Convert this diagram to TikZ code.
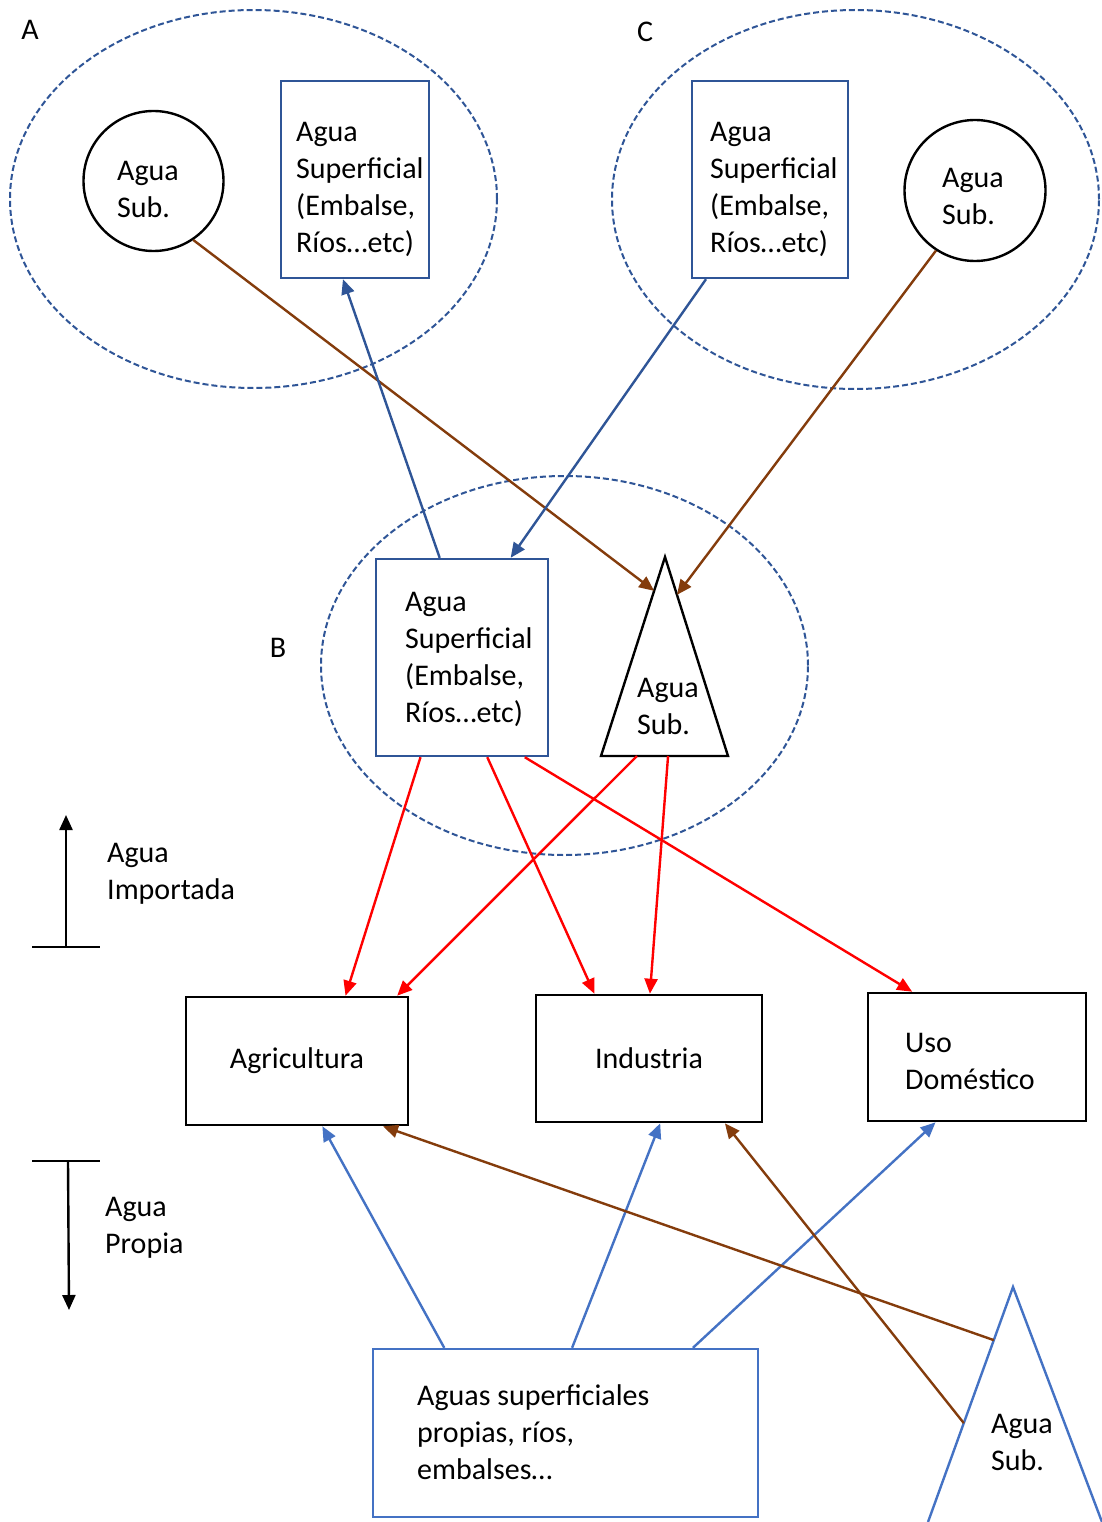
\documentclass[tikz,border=0pt]{standalone}
\usepackage{fontspec}
\setmainfont{Carlito}
\usetikzlibrary{arrows.meta,calc,shapes.geometric}
\definecolor{dblue}{HTML}{2F5597}
\definecolor{mblue}{HTML}{4472C4}
\definecolor{brn}{HTML}{843C0C}
\definecolor{rd}{HTML}{FF0000}
\begin{document}
\begin{tikzpicture}[x=1pt,y=-1pt,
  every node/.style={font=\fontsize{30}{37}\selectfont},
  region/.style={draw=dblue, line width=2pt, dash pattern=on 6pt off 3pt, ellipse, inner sep=0pt},
  sbox/.style={draw=dblue, line width=2.4pt, rectangle, inner sep=0pt},
  obox/.style={draw=mblue, line width=2.4pt, rectangle, inner sep=0pt},
  ubox/.style={draw=black, line width=2.6pt, rectangle, inner sep=0pt},
  subc/.style={draw=black, line width=2.4pt, circle, inner sep=0pt},
  tx/.style={align=left, inner sep=0pt, anchor=west},
  lbl/.style={inner sep=0pt},
  tri/.style={line width=2.4pt, line join=miter},
  arr/.style={line width=2.4pt, -{Triangle[length=15pt,width=13pt]}},
  redarr/.style={arr, draw=rd, fill=rd},
  brnarr/.style={arr, draw=brn, fill=brn},
  dbarr/.style={arr, draw=dblue, fill=dblue},
  mbarr/.style={arr, draw=mblue, fill=mblue},
  legarr/.style={line width=2.4pt, -{Triangle[length=15pt,width=13pt]}},
  legbase/.style={line width=1.4pt}
]
\fill[white] (0,0) rectangle (1102,1522);
\useasboundingbox (0,0) rectangle (1102,1522);

% regions
\node[region, minimum width=487, minimum height=378] (regA) at (253.5,199) {};
\node[region, minimum width=487, minimum height=379] (regC) at (855.5,199.5) {};
\node[region, minimum width=487, minimum height=379] (regB) at (564.5,665.5) {};
\node[lbl] (labA) at (30,30) {A};
\node[lbl] (labC) at (645,32) {C};
\node[lbl] (labB) at (278,648) {B};

% region A
\node[subc, minimum size=140] (subA) at (153.5,181) {};
\node[tx] (subAt) at (117,189) {Agua\\Sub.};
\node[sbox, minimum width=148, minimum height=197] (supA) at (355,179.5) {};
\node[tx] (supAt) at (296,189.5) {Agua\\Superficial\\(Embalse,\\Ríos…etc)};

% region C
\node[sbox, minimum width=156, minimum height=197] (supC) at (770,179.5) {};
\node[tx] (supCt) at (710,189.5) {Agua\\Superficial\\(Embalse,\\Ríos…etc)};
\node[subc, minimum size=141] (subC) at (975,190.5) {};
\node[tx] (subCt) at (942,196) {Agua\\Sub.};

% region B
\node[sbox, minimum width=172, minimum height=197] (supB) at (462,657.5) {};
\node[tx] (supBt) at (405,659.5) {Agua\\Superficial\\(Embalse,\\Ríos…etc)};
\coordinate (tBtop) at (665,557);
\coordinate (tBr) at (728,756);
\coordinate (tBl) at (601,756);
\draw[tri] (tBtop) -- (tBr) -- (tBl) -- cycle;
\node[tx] (tBt) at (637,706) {Agua\\Sub.};

% uses
\node[ubox, minimum width=222, minimum height=128] (agr) at (297,1061) {Agricultura};
\node[ubox, minimum width=226, minimum height=127] (ind) at (649,1058.5) {Industria};
\node[ubox, minimum width=218, minimum height=128] (uso) at (977,1057) {};
\node[tx] (usot) at (905,1061) {Uso\\Doméstico};

% own sources
\node[obox, minimum width=385, minimum height=168] (own) at (565.5,1433) {};
\node[tx] (ownt) at (417,1432) {Aguas superficiales\\propias, ríos,\\embalses…};
\coordinate (tCtop) at (1013,1287);
\coordinate (tCl) at (928,1522);
\coordinate (tCr) at (1102,1522);
\draw[tri, draw=mblue] (tCl) -- (tCtop) -- (tCr);
\node[tx] (tCt) at (991,1442) {Agua\\Sub.};

% legend
\coordinate (impB) at (66,947);
\coordinate (impT) at (66,815);
\coordinate (impL) at (32,947);
\coordinate (impR) at (100,947);
\draw[legbase] (impL) -- (impR);
\draw[legarr] (impB) -- (impT);
\node[tx] (impt) at (107,874) {Agua\\Importada};
\coordinate (proT) at (68,1161);
\coordinate (proB) at (69,1310);
\coordinate (proL) at (32,1161);
\coordinate (proR) at (100,1161);
\draw[legbase] (proL) -- (proR);
\draw[legarr] (proT) -- (proB);
\node[tx] (prot) at (105,1228) {Agua\\Propia};

% connectors between regions
\draw[brnarr] (subA.-56.5) -- ($(tBtop)!0.17!(tBl)$);
\draw[dbarr] ($(supB.north west)!0.372!(supB.north east)$) -- ($(supA.south west)!0.42!(supA.south east)$);
\draw[dbarr] ($(supC.south west)!0.096!(supC.south east)$) -- ($(supB.north west)!0.779!(supB.north east)$);
\draw[brnarr] (subC.-123.7) -- ($(tBtop)!0.19!(tBr)$);

% imported water to uses
\draw[redarr] ($(supB.south west)!0.262!(supB.south east)$) -- ($(agr.north west)!0.716!(agr.north east)$);
\draw[redarr] ($(tBl)!0.283!(tBr)$) -- ($(agr.north west)!0.946!(agr.north east)$);
\draw[redarr] ($(supB.south west)!0.645!(supB.south east)$) -- ($(ind.north west)!0.261!(ind.north east)$);
\draw[redarr] ($(tBl)!0.528!(tBr)$) -- ($(ind.north west)!0.504!(ind.north east)$);
\draw[redarr] ($(supB.south west)!0.86!(supB.south east)$) -- ($(uso.north west)!0.206!(uso.north east)$);

% own water to uses
\draw[mbarr] ($(own.north west)!0.187!(own.north east)$) -- ($(agr.south west)!0.613!(agr.south east)$);
\draw[mbarr] ($(own.north west)!0.517!(own.north east)$) -- ($(ind.south west)!0.549!(ind.south east)$);
\draw[mbarr] ($(own.north west)!0.829!(own.north east)$) -- ($(uso.south west)!0.312!(uso.south east)$);
\draw[brnarr] ($(tCtop)!0.226!(tCl)$) -- ($(agr.south west)!0.883!(agr.south east)$);
\draw[brnarr] ($(tCtop)!0.579!(tCl)$) -- ($(ind.south west)!0.832!(ind.south east)$);
\end{tikzpicture}
\end{document}
